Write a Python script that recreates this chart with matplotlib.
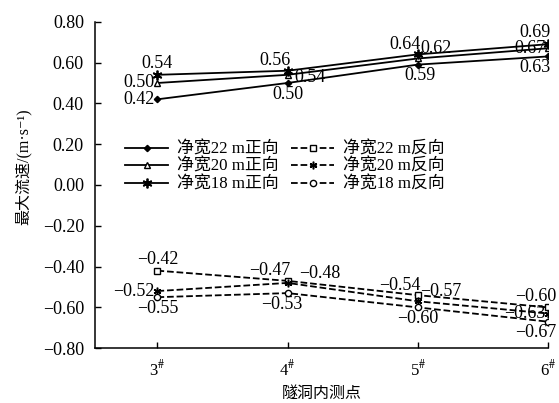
import matplotlib.pyplot as plt

plt.rcParams['font.family'] = ['Liberation Serif', 'Noto Sans CJK SC', 'DejaVu Sans']
plt.rcParams['mathtext.fontset'] = 'stix'
plt.rcParams['axes.unicode_minus'] = True

points = [3, 4, 5, 6]
tick_labels = [r'3$^{\#}$', r'4$^{\#}$', r'5$^{\#}$', r'6$^{\#}$']

fwd_22 = [0.42, 0.50, 0.59, 0.63]
fwd_20 = [0.50, 0.54, 0.62, 0.67]
fwd_18 = [0.54, 0.56, 0.64, 0.69]
rev_22 = [-0.42, -0.47, -0.54, -0.60]
rev_20 = [-0.52, -0.48, -0.57, -0.63]
rev_18 = [-0.55, -0.53, -0.60, -0.67]

names = ['净宽22 m正向', '净宽20 m正向', '净宽18 m正向',
         '净宽22 m反向', '净宽20 m反向', '净宽18 m反向']

fs = 13

fig = plt.figure(figsize=(5.59, 4.03), dpi=100)
ax = fig.add_axes([0.17, 0.136, 0.81, 0.81])

ms = 4.5
l1, = ax.plot(points, fwd_22, '-', color='k', lw=1.3, marker='D', ms=3.2, mfc='k')
l2, = ax.plot(points, fwd_20, '-', color='k', lw=1.3, marker='^', ms=ms, mfc='white')
l3, = ax.plot(points, fwd_18, '-', color='k', lw=1.3, marker=(6, 2, 0), ms=7, mew=1.3)
l4, = ax.plot(points, rev_22, '--', color='k', lw=1.3, marker='s', ms=ms, mfc='white')
l5, = ax.plot(points, rev_20, '--', color='k', lw=1.3, marker=(6, 2, 0), ms=5.5, mew=1.1)
l6, = ax.plot(points, rev_18, '--', color='k', lw=1.3, marker='o', ms=ms, mfc='white')


def fmt(v):
    return f'{v:.2f}'.replace('-', '\u2212')


# label placement for each point: (dx, dy, ha, va) offsets in points
up = (0, 2, 'center', 'bottom')
down = (0, -2, 'center', 'top')
left = (-2, 0, 'right', 'center')
right = (5, -2, 'left', 'center')
upleft = (2, 1, 'right', 'bottom')
upright = (2, 1, 'left', 'bottom')
up6 = (-9, 2, 'center', 'bottom')
down6 = (-9, -2, 'center', 'top')

place = {
    'fwd_22': [left, down, (2, -2, 'center', 'top'), down6],
    'fwd_20': [left, right, upright, left],
    'fwd_18': [up, upleft, upleft, up6],
    'rev_22': [up, upleft, upleft, up6],
    'rev_20': [left, (8, 1, 'left', 'bottom'), upright, left],
    'rev_18': [down, (-4, -2, 'center', 'top'), down, down6],
}
series = {'fwd_22': fwd_22, 'fwd_20': fwd_20, 'fwd_18': fwd_18,
          'rev_22': rev_22, 'rev_20': rev_20, 'rev_18': rev_18}

for key, vals in series.items():
    for x, v, (dx, dy, ha, va) in zip(points, vals, place[key]):
        ax.annotate(fmt(v), (x, v), xytext=(dx, dy), textcoords='offset points',
                    ha=ha, va=va, fontsize=fs)

ax.set_xlim(2.52, 6.0)
ax.set_ylim(-0.8, 0.8)
ax.set_xticks(points)
ax.set_xticklabels(tick_labels)
yt = [-0.8, -0.6, -0.4, -0.2, 0.0, 0.2, 0.4, 0.6, 0.8]
ax.set_yticks(yt)
ax.set_yticklabels([fmt(v) for v in yt])
ax.tick_params(direction='in', labelsize=fs, length=4, width=1)
ax.tick_params(axis='y', pad=8)
ax.tick_params(axis='x', pad=8, labelsize=12)
ax.spines['top'].set_visible(False)
ax.spines['right'].set_visible(False)
ax.spines['left'].set_linewidth(1.1)
ax.spines['bottom'].set_linewidth(1.1)

ax.set_ylabel('最大流速/(m·s⁻¹)', fontsize=11.5, labelpad=6)
ax.yaxis.set_label_coords(-0.14, 0.555)
ax.set_xlabel('隧洞内测点', fontsize=11.5, labelpad=5)

ax.legend([l1, l2, l3, l4, l5, l6], names, ncol=2, frameon=False,
          loc='upper left', bbox_to_anchor=(0.04, 0.67), fontsize=12.2,
          handlelength=2.55, handletextpad=0.5, columnspacing=0.75,
          labelspacing=0.08, borderpad=0.2)

fig.savefig('out.png', dpi=100)
